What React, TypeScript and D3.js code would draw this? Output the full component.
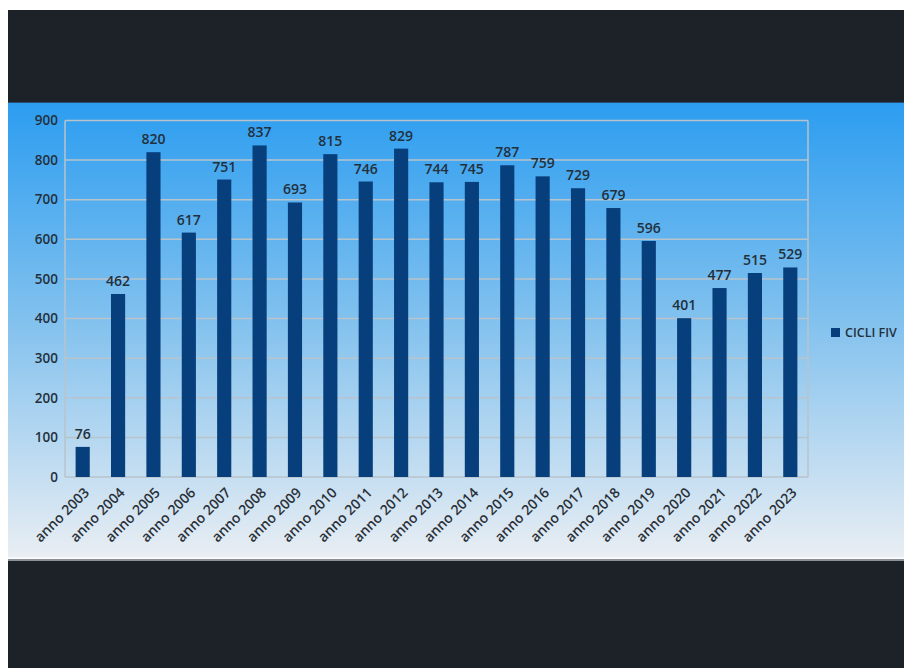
import React from "react";
import * as d3 from "d3";

const years = [
  "anno 2003", "anno 2004", "anno 2005", "anno 2006", "anno 2007", "anno 2008", "anno 2009",
  "anno 2010", "anno 2011", "anno 2012", "anno 2013", "anno 2014", "anno 2015", "anno 2016",
  "anno 2017", "anno 2018", "anno 2019", "anno 2020", "anno 2021", "anno 2022", "anno 2023",
];
const cicliFiv = [76, 462, 820, 617, 751, 837, 693, 815, 746, 829, 744, 745, 787, 759, 729, 679, 596, 401, 477, 515, 529];
const yTicks = [0, 100, 200, 300, 400, 500, 600, 700, 800, 900];
const seriesName = "CICLI FIV";

const W = 904;
const H = 668;
const margin = { top: 120.5, right: 96, bottom: 191, left: 65 };

const App = () => {
  const x = d3
    .scaleBand<string>()
    .domain(years)
    .range([margin.left, W - margin.right])
    .paddingInner(0.6)
    .paddingOuter(0.3);

  const y = d3
    .scaleLinear()
    .domain([0, 900])
    .range([H - margin.bottom, margin.top]);

  const font = "'Open Sans', 'DejaVu Sans', sans-serif";
  const textColor = "#23303c";
  const gridColor = "#b9c3cb";

  return (
    <svg
      width={W}
      height={H}
      style={{ position: "absolute", left: 0, top: 0, display: "block" }}
    >
      <defs>
        <linearGradient id="bg" x1="0" y1="0" x2="0" y2="1">
          <stop offset="0" stopColor="#2c9df0" />
          <stop offset="0.5" stopColor="#86c3ee" />
          <stop offset="1" stopColor="#e9eef3" />
        </linearGradient>
      </defs>
      <rect x={0} y={0} width={W} height={H} fill="#ffffff" />
      {/* dark bands of the photo */}
      <rect x={8} y={10} width={W - 8} height={93} fill="#1d2128" />
      <rect x={8} y={102} width={W - 8} height={1} fill="#2a4f70" />
      <rect x={8} y={103} width={W - 8} height={455} fill="url(#bg)" />
      <rect x={8} y={557} width={W - 8} height={2} fill="#f6f8fa" />
      <rect x={8} y={559} width={W - 8} height={2} fill="#8a9096" />
      <rect x={8} y={561} width={W - 8} height={H - 561} fill="#1d2128" />

      {/* grid */}
      {yTicks.map((t) => (
        <line
          key={t}
          x1={margin.left}
          x2={W - margin.right}
          y1={y(t)}
          y2={y(t)}
          stroke={gridColor}
          strokeWidth={1.5}
        />
      ))}
      <line x1={margin.left} x2={margin.left} y1={y(900)} y2={y(0)} stroke={gridColor} strokeWidth={1.5} />
      <line
        x1={W - margin.right}
        x2={W - margin.right}
        y1={y(900)}
        y2={y(0)}
        stroke={gridColor}
        strokeWidth={1.5}
      />

      {/* y axis labels */}
      {yTicks.map((t) => (
        <text
          key={t}
          x={margin.left - 7}
          y={y(t)}
          dy="0.35em"
          textAnchor="end"
          fontFamily={font}
          fontSize={13.5}
          fontWeight={600}
          fill={textColor}
        >
          {t}
        </text>
      ))}

      {/* bars */}
      {years.map((d, i) => (
        <rect
          key={d}
          x={x(d)}
          y={y(cicliFiv[i])}
          width={x.bandwidth()}
          height={y(0) - y(cicliFiv[i])}
          fill="#073f7d"
        />
      ))}

      {/* value labels */}
      {years.map((d, i) => (
        <text
          key={d}
          x={(x(d) ?? 0) + x.bandwidth() / 2}
          y={y(cicliFiv[i]) - 8}
          textAnchor="middle"
          fontFamily={font}
          fontSize={14}
          fontWeight={600}
          fill={textColor}
        >
          {cicliFiv[i]}
        </text>
      ))}

      {/* x labels */}
      {years.map((d) => {
        const cx = (x(d) ?? 0) + x.bandwidth() / 2 + 4;
        const cy = y(0) + 13;
        return (
          <text
            key={d}
            transform={`translate(${cx},${cy}) rotate(-45)`}
            textAnchor="end"
            dy="0.35em"
            fontFamily={font}
            fontSize={14}
            fontWeight={600}
            fill="#2a3038"
          >
            {d}
          </text>
        );
      })}

      {/* legend */}
      <rect x={831} y={328} width={9} height={9} fill="#073f7d" />
      <text
        x={845}
        y={332.5}
        dy="0.35em"
        fontFamily={font}
        fontSize={12.5}
        fontWeight={600}
        fill={textColor}
      >
        {seriesName}
      </text>
    </svg>
  );
};

export default App;
